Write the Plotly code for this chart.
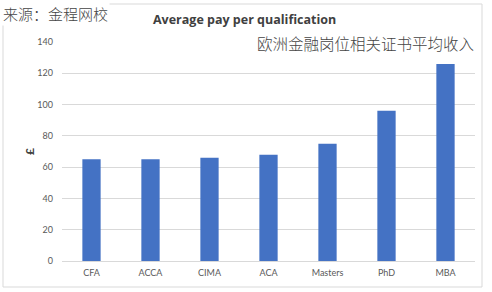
import plotly.graph_objects as go

categories = ["CFA", "ACCA", "CIMA", "ACA", "Masters", "PhD", "MBA"]
values = [65, 65, 66, 68, 75, 96, 126]
y_ticks = [0, 20, 40, 60, 80, 100, 120, 140]

W, H = 492, 292
L, R, T, B = 62, 17, 42, 31
pw, ph = W - L - R, H - T - B

def px(x):
    return (x - L) / pw

def py(y):
    return (H - B - y) / ph

fig = go.Figure(go.Bar(
    x=categories, y=values,
    marker=dict(color="#4472C4", line=dict(width=0)),
    width=0.31,
))

fig.update_layout(
    width=W, height=H,
    margin=dict(l=L, r=R, t=T, b=B),
    paper_bgcolor="white", plot_bgcolor="white",
    showlegend=False,
    font=dict(family="Lato, Noto Sans, sans-serif", color="#595959", size=9),
    xaxis=dict(showgrid=False, showline=False, ticks="", ticklabelstandoff=5,
               tickfont=dict(size=9, color="#595959")),
    yaxis=dict(range=[0, 140], tickvals=y_ticks, showgrid=True, gridcolor="#d9d9d9",
               gridwidth=1, zeroline=True, zerolinecolor="#d9d9d9", zerolinewidth=1,
               ticks="", ticklabelstandoff=8, tickfont=dict(size=9, color="#595959"),
               title=dict(text="<b>£</b>", font=dict(size=12, color="#404040"), standoff=0)),
    shapes=[dict(type="rect", xref="paper", yref="paper",
                 x0=px(3), x1=px(482), y0=py(287), y1=py(4),
                 line=dict(color="#d9d9d9", width=1), fillcolor="rgba(0,0,0,0)", layer="below")],
    annotations=[
        dict(text="<b>Average pay per qualification</b>", xref="paper", yref="paper",
             x=px(244), y=py(20), xanchor="center", yanchor="middle", showarrow=False,
             font=dict(family="Open Sans, Noto Sans, sans-serif", size=12.5, color="#404040")),
        dict(text="来源：金程网校", xref="paper", yref="paper",
             x=px(1), y=py(13), xanchor="left", yanchor="middle", showarrow=False,
             bgcolor="white",
             font=dict(family="Noto Sans CJK SC", size=15, color="#444444", weight=300)),
        dict(text="欧洲金融岗位相关证书平均收入", xref="paper", yref="paper",
             x=px(476), y=py(43), xanchor="right", yanchor="middle", showarrow=False,
             bgcolor="white",
             font=dict(family="Noto Sans CJK SC", size=15.5, color="#444444", weight=300)),
    ],
)

fig.write_html("out.html")
